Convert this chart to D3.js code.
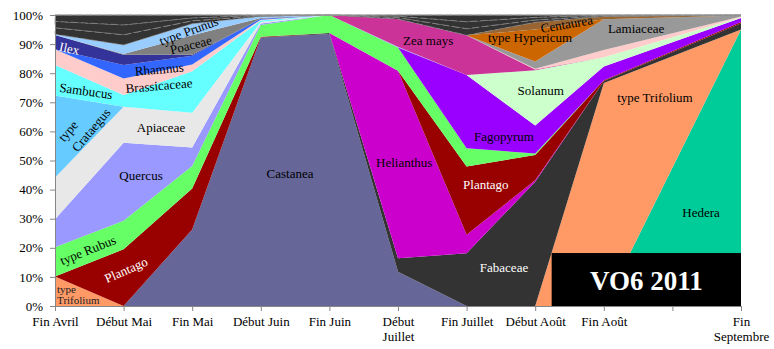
<!DOCTYPE html>
<html>
<head>
<meta charset="utf-8">
<script src="https://cdn.jsdelivr.net/npm/d3@7"></script>
<style>
  body { margin: 0; background: #fff; }
  svg { display: block; }
  text { font-family: "Liberation Serif", "Times New Roman", serif; }
</style>
</head>
<body>
<svg id="chart" width="774" height="349"></svg>
<script>
// Sampling periods (the tenth slot has no sample)
const periods = ["Fin Avril", "Début Mai", "Fin Mai", "Début Juin", "Fin Juin",
  "Début Juillet", "Fin Juillet", "Début Août", "Fin Août", "", "Fin Septembre"];
const tickLabels = [["Fin Avril"], ["Début Mai"], ["Fin Mai"], ["Début Juin"], ["Fin Juin"],
  ["Début", "Juillet"], ["Fin Juillet"], ["Début Août"], ["Fin Août"], [""], ["Fin", "Septembre"]];

// Pollen share per taxon (%), stacked from the bottom up
const hedera      = [0,    0,    0,    0,    0,    0,    0,    0,    0,    null, 95];
const trifolium   = [10.1, 0,    0,    0,    0,    0,    0,    0,    76.6, null, 0];
const castanea    = [0,    0,    26.3, 92.3, 93.5, 11.8, 0,    0,    0,    null, 0];
const fabaceae    = [0,    0,    0,    0,    0.3,  4.6,  18.1, 42.7, 0.7,  null, 2.2];
const helianthus  = [0,    0,    0,    0,    0,    64.4, 6.4,  0.5,  0,    null, 0];
const plantago    = [0,    19.5, 14.1, 0.2,  0,    0,    23.4, 8.7,  0.3,  null, 0.4];
const rubus       = [10.1, 9.8,  7.7,  4.1,  6.2,  8.0,  6.3,  0.5,  0,    null, 0];
const fagopyrum   = [0,    0,    0,    0,    0,    0,    25.2, 9.6,  4.7,  null, 1.4];
const quercus     = [9.6,  26.8, 6.4,  0.5,  0,    0.3,  0,    0,    0,    null, 0];
const apiaceae    = [14.4, 12.4, 11.9, 0.5,  0,    0,    0,    0,    0,    null, 0];
const crataegus   = [28.1, 0,    0,    0,    0,    0,    0,    0,    0,    null, 0];
const sambucus    = [10.5, 4.0,  14.3, 0.5,  0,    0,    0,    0,    0,    null, 0];
const solanum     = [0,    0,    0,    0,    0,    0,    0,    19.0, 3.2,  null, 0.2];
const zeaMays     = [0,    0,    0,    0,    0,    9.5,  13.6, 0.3,  0,    null, 0];
const brassicaceae= [5.4,  5.7,  2.3,  0.3,  0,    0,    0,    0.2,  2.5,  null, 0.3];
const rhamnus     = [0,    4.6,  3.0,  0.3,  0,    0,    0,    0,    0,    null, 0];
const ilex        = [4.9,  3.5,  0.3,  0,    0,    0,    0,    0,    0,    null, 0];
const poaceae     = [0,    0.3,  6.7,  0.3,  0,    0,    0,    0,    0,    null, 0];
const prunus      = [0.3,  3.1,  4.0,  0.5,  0,    0,    0,    0,    0,    null, 0];
const lamiaceae   = [0,    0,    0,    0,    0,    0,    0,    2.5,  10.5, null, 0.3];
const hypericum   = [0,    0,    0,    0,    0,    0,    0,    11.0, 0,    null, 0];
const centaurea   = [0,    0,    0,    0,    0,    0,    0,    2.5,  1.0,  null, 0.1];
const autresA     = [2.2,  3.5,  1.0,  0.2,  0,    0.5,  2.3,  0.8,  0.2,  null, 0];
const autresB     = [2.2,  3.4,  1.0,  0.2,  0,    0.5,  2.4,  0.9,  0.2,  null, 0.1];
const autresC     = [2.2,  3.4,  1.0,  0.1,  0,    0.4,  2.3,  0.8,  0.1,  null, 0];

const yTicks = [0, 0.1, 0.2, 0.3, 0.4, 0.5, 0.6, 0.7, 0.8, 0.9, 1];

const series = [
  { key: "Hedera", values: hedera, color: "#00CC99" },
  { key: "type Trifolium", values: trifolium, color: "#FF9966" },
  { key: "Castanea", values: castanea, color: "#666699" },
  { key: "Fabaceae", values: fabaceae, color: "#333333" },
  { key: "Helianthus", values: helianthus, color: "#CC00CC" },
  { key: "Plantago", values: plantago, color: "#990000" },
  { key: "type Rubus", values: rubus, color: "#66FF66" },
  { key: "Fagopyrum", values: fagopyrum, color: "#9900FF" },
  { key: "Quercus", values: quercus, color: "#9999FF" },
  { key: "Apiaceae", values: apiaceae, color: "#E8E8E8" },
  { key: "type Crataegus", values: crataegus, color: "#66CCFF" },
  { key: "Sambucus", values: sambucus, color: "#66FFFF" },
  { key: "Solanum", values: solanum, color: "#CCFFCC" },
  { key: "Zea mays", values: zeaMays, color: "#CC3399" },
  { key: "Brassicaceae", values: brassicaceae, color: "#FFCCCC" },
  { key: "Rhamnus", values: rhamnus, color: "#3366FF" },
  { key: "Ilex", values: ilex, color: "#333399" },
  { key: "Poaceae", values: poaceae, color: "#808080" },
  { key: "type Prunus", values: prunus, color: "#99CCFF" },
  { key: "Lamiaceae", values: lamiaceae, color: "#999999" },
  { key: "type Hypericum", values: hypericum, color: "#CC6600" },
  { key: "Centaurea", values: centaurea, color: "#996633" },
  { key: "Autres A", values: autresA, color: "#333333", other: true },
  { key: "Autres B", values: autresB, color: "#333333", other: true },
  { key: "Autres C", values: autresC, color: "#333333", other: true }
];

const svg = d3.select("#chart");
const margin = { left: 55, right: 33, top: 15, bottom: 43 };
const W = 774, H = 349;

const x = d3.scalePoint().domain(periods).range([margin.left, W - margin.right]);
const xi = d3.scaleLinear().domain([0, periods.length - 1]).range(x.range());
const y = d3.scaleLinear().domain([0, 1]).range([H - margin.bottom, margin.top]);

// rows for sampled periods only
const rows = periods.map((p, i) => {
  const r = { period: p };
  series.forEach(s => r[s.key] = s.values[i]);
  return r;
}).filter(r => r[series[0].key] !== null);

const stack = d3.stack()
  .keys(series.map(s => s.key))
  .value((r, k) => r[k])
  .offset(d3.stackOffsetExpand);
const layers = stack(rows);

const area = d3.area()
  .x(d => x(d.data.period))
  .y0(d => y(d[0]))
  .y1(d => y(d[1]));

svg.append("g").selectAll("path")
  .data(layers)
  .join("path")
  .attr("d", area)
  .attr("fill", (d, i) => series[i].color)
  .attr("stroke", (d, i) => series[i].other ? "#8c8c8c" : "none")
  .attr("stroke-width", 0.7)
  .attr("stroke-dasharray", (d, i) => series[i].other ? "7 3" : null);

// plot frame top
svg.append("line")
  .attr("x1", margin.left).attr("x2", W - margin.right)
  .attr("y1", y(1)).attr("y2", y(1))
  .attr("stroke", "#9a9a9a").attr("stroke-width", 1.2);

// in-chart taxon labels, placed in (period index, share) coordinates
const labels = [
  { t: "type", i: 0.03, v: 0.060, anchor: "start", size: 11, color: "#222" },
  { t: "Trifolium", i: 0.03, v: 0.019, anchor: "start", size: 11, color: "#222" },
  { t: "Plantago", i: 1.035, v: 0.124, rot: -24, color: "#fff" },
  { t: "type Rubus", i: 0.48, v: 0.192, rot: -22 },
  { t: "Quercus", i: 1.254, v: 0.450 },
  { t: "Apiaceae", i: 1.545, v: 0.612 },
  { t: "type", i: 0.19, v: 0.601, rot: -50 },
  { t: "Crataegus", i: 0.525, v: 0.605, rot: -50 },
  { t: "Sambucus", i: 0.452, v: 0.739, rot: 8 },
  { t: "Brassicaceae", i: 1.516, v: 0.757, rot: -5 },
  { t: "Rhamnus", i: 1.52, v: 0.814, rot: -5 },
  { t: "Ilex", i: 0.21, v: 0.885, rot: 12, color: "#fff" },
  { t: "Poaceae", i: 1.98, v: 0.897, rot: -14 },
  { t: "type Prunus", i: 1.95, v: 0.945, rot: -20 },
  { t: "Castanea", i: 3.426, v: 0.457 },
  { t: "Helianthus", i: 5.09, v: 0.493 },
  { t: "Zea mays", i: 5.44, v: 0.911 },
  { t: "type Hypericum", i: 6.924, v: 0.923 },
  { t: "Centaurea", i: 7.46, v: 0.969, rot: -10 },
  { t: "Lamiaceae", i: 8.47, v: 0.955 },
  { t: "Solanum", i: 7.08, v: 0.739 },
  { t: "Fagopyrum", i: 6.545, v: 0.584 },
  { t: "Plantago", i: 6.28, v: 0.419, color: "#fff" },
  { t: "Fabaceae", i: 6.545, v: 0.134, color: "#fff" },
  { t: "type Trifolium", i: 8.746, v: 0.715 },
  { t: "Hedera", i: 9.417, v: 0.320 }
];

svg.append("g").selectAll("text")
  .data(labels)
  .join("text")
  .attr("transform", d => `translate(${xi(d.i)},${y(d.v)}) rotate(${d.rot || 0})`)
  .attr("text-anchor", d => d.anchor || "middle")
  .attr("dominant-baseline", "central")
  .attr("font-size", d => d.size || 13)
  .attr("fill", d => d.color || "#000")
  .text(d => d.t);

// site / year badge
const badge = svg.append("g");
badge.append("rect")
  .attr("x", xi(7.24)).attr("y", y(0.182))
  .attr("width", xi(10) - xi(7.24)).attr("height", y(0) - y(0.182))
  .attr("fill", "#000");
badge.append("text")
  .attr("x", xi(8.62)).attr("y", y(0.055))
  .attr("text-anchor", "middle")
  .attr("font-size", 27).attr("font-weight", "bold")
  .attr("fill", "#fff")
  .text("VO6 2011");

// y axis
const yAxis = svg.append("g")
  .attr("transform", `translate(${margin.left},0)`)
  .call(d3.axisLeft(y).tickValues(yTicks).tickFormat(d3.format(".0%")).tickSize(5).tickPadding(7));
yAxis.selectAll("text").attr("font-size", 13).attr("fill", "#000");
yAxis.selectAll("line, path").attr("stroke", "#868686");

// x axis
const xAxis = svg.append("g")
  .attr("transform", `translate(0,${y(0)})`)
  .call(d3.axisBottom(x).tickSize(5).tickFormat(""));
xAxis.selectAll("line, path").attr("stroke", "#868686");
xAxis.selectAll(".tick").each(function(p) {
  const lines = tickLabels[periods.indexOf(p)];
  const t = d3.select(this).append("text")
    .attr("text-anchor", "middle")
    .attr("font-size", 13)
    .attr("fill", "#000");
  lines.forEach((s, k) => t.append("tspan").attr("x", 0).attr("y", 20 + k * 15).text(s));
});
</script>
</body>
</html>
